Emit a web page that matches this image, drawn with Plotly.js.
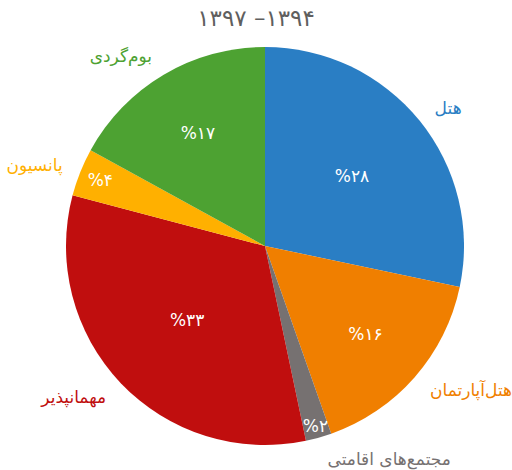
<!DOCTYPE html>
<html><head><meta charset="utf-8">
<script src="https://cdn.plot.ly/plotly-3.0.1.min.js"></script>
<style>html,body{margin:0;padding:0;background:#fff;}#chart{width:512px;height:470px;}</style>
</head><body><div id="chart"></div>
<script>
const categories = ["هتل", "هتل‌آپارتمان", "مجتمع‌های اقامتی", "مهمانپذیر", "پانسیون", "بوم‌گردی"];
const values = [28.3, 16.3, 2.1, 32.4, 3.9, 17.0];
const pctLabels = ["%۲۸", "%۱۶", "%۲", "%۳۳", "%۴", "%۱۷"];
const colors = ["#2A7EC4", "#F07F00", "#767171", "#C00E0E", "#FFB000", "#4DA232"];
const titleText = "۱۳۹۷ –۱۳۹۴";

const font = "DejaVu Sans, sans-serif";
const W = 512, H = 470, cx = 265, cy = 246, R = 199, R2 = 212;
const dom = r => ({x: [(cx - r) / W, (cx + r) / W], y: [(H - cy - r) / H, (H - cy + r) / H]});

const pieIn = {
  type: "pie", labels: categories, values: values, customdata: pctLabels,
  sort: false, direction: "clockwise", rotation: 0,
  marker: {colors: colors, line: {width: 0}},
  texttemplate: "%{customdata}", textposition: "inside", insidetextorientation: "horizontal",
  insidetextfont: {family: font, size: 19, color: "#ffffff"},
  domain: dom(R), showlegend: false, hoverinfo: "label+percent"
};
const pieOut = {
  type: "pie", labels: categories, values: values,
  sort: false, direction: "clockwise", rotation: 0,
  marker: {colors: categories.map(() => "rgba(0,0,0,0)"), line: {width: 0}},
  texttemplate: "%{label}", textposition: "outside",
  outsidetextfont: {family: font, size: 14.5, color: colors},
  domain: dom(R2), showlegend: false, hoverinfo: "skip", automargin: false
};

Plotly.newPlot("chart", [pieIn, pieOut], {
  width: W, height: H,
  margin: {l: 0, r: 0, t: 0, b: 0},
  paper_bgcolor: "#ffffff",
  title: {text: titleText, font: {family: font, size: 23, color: "#5f5f5f"}, x: 0.5, xanchor: "center", y: 0.962, yref: "container", yanchor: "middle"},
  uniformtext: {minsize: 17, mode: "show"}
}, {staticPlot: true});
</script></body></html>
